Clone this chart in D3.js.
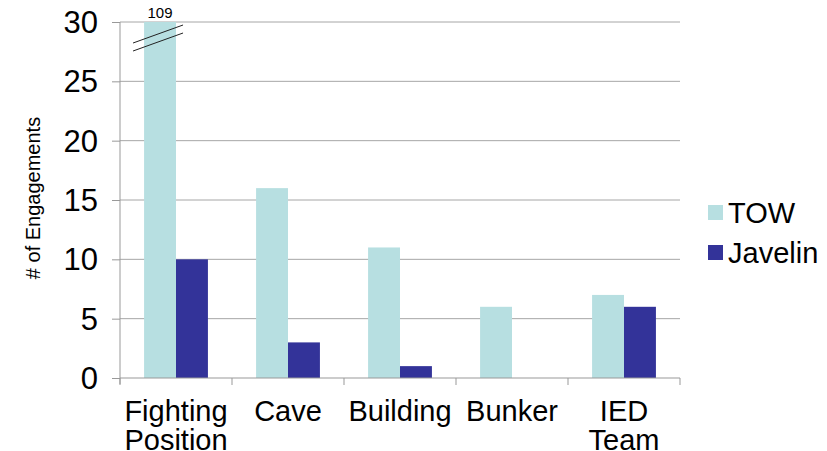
<!DOCTYPE html>
<html><head><meta charset="utf-8">
<script src="https://cdn.jsdelivr.net/npm/d3@7"></script>
<style>body{margin:0;background:#fff}svg{display:block}text{font-family:"Liberation Sans",Arial,sans-serif}</style>
</head><body>
<svg id="c" width="827" height="451"></svg>
<script>
const categories = [["Fighting","Position"],["Cave"],["Building"],["Bunker"],["IED","Team"]];
const seriesNames = ["TOW","Javelin"];
const towValues = [109, 16, 11, 6, 7];
const javelinValues = [10, 3, 1, 0, 6];
const yTicks = [0,5,10,15,20,25,30];
const colors = ["#b7dfe1","#333399"];
const yMax = 30;

(function(){
const svg = d3.select("#c");
const pl = 120, pr = 680, pt = 22, pb = 378;
const x = d3.scaleBand().domain(d3.range(categories.length)).range([pl, pr]).paddingInner(0).paddingOuter(0);
const y = d3.scaleLinear().domain([0, yMax]).range([pb, pt]);
const inner = d3.scaleBand().domain([0,1]).range([0, x.bandwidth()*0.57]);
const off = (x.bandwidth() - x.bandwidth()*0.57)/2;

svg.append("g").selectAll("line").data(yTicks.filter(d=>d>0)).join("line")
  .attr("x1", pl).attr("x2", pr).attr("y1", d=>y(d)).attr("y2", d=>y(d))
  .attr("stroke", "#a6a6a6").attr("stroke-width", 1);

const series = [towValues, javelinValues];
series.forEach((vals, si) => {
  svg.append("g").selectAll("rect").data(vals).join("rect")
    .attr("x", (d,i)=>x(i)+off+inner(si))
    .attr("width", inner.bandwidth())
    .attr("y", d=>y(Math.min(d,yMax)))
    .attr("height", d=>pb - y(Math.min(d,yMax)))
    .attr("fill", colors[si]);
});

towValues.forEach((v,i)=>{
  if (v > yMax) {
    const cx = x(i)+off+inner(0)+inner.bandwidth()/2;
    [0, 8].forEach(dy=>{
      svg.append("line").attr("x1", cx-27).attr("y1", y(yMax)+21+dy)
        .attr("x2", cx+23).attr("y2", y(yMax)+3+dy)
        .attr("stroke","#222").attr("stroke-width",1);
    });
    svg.append("text").attr("x", cx).attr("y", y(yMax)-4).attr("text-anchor","middle")
      .attr("font-size", 15).attr("fill","#000").text(v);
  }
});

const ya = svg.append("g").attr("transform", `translate(${pl},0)`)
  .call(d3.axisLeft(y).tickValues(yTicks).tickSize(8).tickPadding(14));
ya.select(".domain").remove();
ya.selectAll(".tick line").attr("stroke","#999");
ya.selectAll(".tick text").attr("font-size", 31).attr("fill","#000").attr("dy","0.34em");
svg.append("line").attr("x1",pl).attr("x2",pl).attr("y1",pt).attr("y2",pb+6).attr("stroke","#999");

const xa = svg.append("g").attr("transform", `translate(0,${pb})`);
xa.append("line").attr("x1",pl).attr("x2",pr).attr("stroke","#999");
xa.selectAll(".tk").data(d3.range(categories.length+1)).join("line")
  .attr("x1", d=> d<categories.length ? x(d) : pr).attr("x2", d=> d<categories.length ? x(d) : pr)
  .attr("y1",0).attr("y2",7).attr("stroke","#999");
categories.forEach((lines,i)=>{
  const t = svg.append("text").attr("x", x(i)+x.bandwidth()/2).attr("y", 421)
    .attr("text-anchor","middle").attr("font-size",29).attr("fill","#000");
  lines.forEach((l,j)=>t.append("tspan").attr("x", x(i)+x.bandwidth()/2).attr("dy", j===0?0:29).text(l));
});

svg.append("text").attr("transform","translate(40,198) rotate(-90)").attr("text-anchor","middle")
  .attr("font-size",20).attr("fill","#000").text("# of Engagements");

seriesNames.forEach((n,i)=>{
  const ly = 212 + i*40;
  svg.append("rect").attr("x",708).attr("y",ly-7).attr("width",15).attr("height",15).attr("fill",colors[i]);
  svg.append("text").attr("x",728).attr("y",ly+11).attr("font-size",29).attr("fill","#000").text(n);
});
})();
</script>
</body></html>
